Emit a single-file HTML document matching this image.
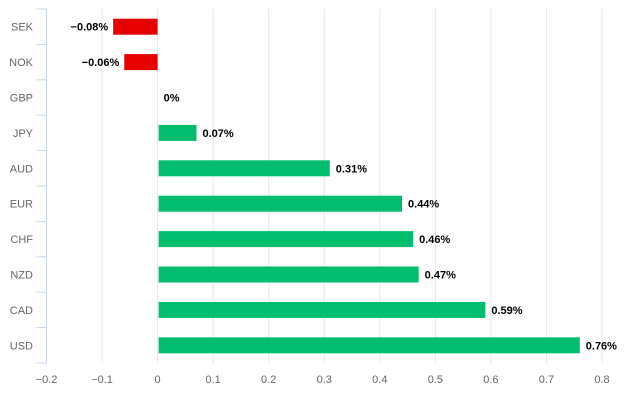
<!DOCTYPE html>
<html><head><meta charset="utf-8"><style>
body{margin:0;background:#fff;font-family:"Liberation Sans",sans-serif}
</style></head><body>
<svg id="c" width="628" height="404" xmlns="http://www.w3.org/2000/svg"></svg>
<script>
const categories=["SEK","NOK","GBP","JPY","AUD","EUR","CHF","NZD","CAD","USD"];
const values=[-0.08,-0.06,0,0.07,0.31,0.44,0.46,0.47,0.59,0.76];
const valueLabels=["−0.08%","−0.06%","0%","0.07%","0.31%","0.44%","0.46%","0.47%","0.59%","0.76%"];
const ticks=[-0.2,-0.1,0,0.1,0.2,0.3,0.4,0.5,0.6,0.7,0.8];
const tickLabels=["−0.2","−0.1","0","0.1","0.2","0.3","0.4","0.5","0.6","0.7","0.8"];
const svg=document.getElementById('c');const NS="http://www.w3.org/2000/svg";
const x0=46.5,x1=602,plotTop=9,plotBot=363,vmin=-0.2,vmax=0.8;
const X=v=>x0+(v-vmin)/(vmax-vmin)*(x1-x0);
const band=(plotBot-plotTop)/categories.length;
const Y=i=>plotTop+band*(i+0.5);
function mk(t,a,txt){const e=document.createElementNS(NS,t);for(const k in a)e.setAttribute(k,a[k]);if(txt!=null)e.textContent=txt;svg.appendChild(e);return e;}
ticks.forEach((t,i)=>{
 if(t!==vmin){const g=mk('line',{x1:X(t),x2:X(t),y1:plotTop,y2:plotBot,stroke:'#e6e6e6','stroke-width':1});
 
 }
 const l=mk('text',{x:X(t),y:383,'text-anchor':'middle','font-size':11,fill:'#666'},tickLabels[i]);
 
 
});
const ax=mk('line',{x1:x0,x2:x0,y1:plotTop,y2:plotBot,stroke:'#ccd6eb','stroke-width':1});


for(let i=0;i<=categories.length;i++){const tk=mk('line',{x1:x0-10,x2:x0,y1:plotTop+band*i,y2:plotTop+band*i,stroke:'#ccd6eb','stroke-width':1});

}
categories.forEach((c,i)=>{
 const cl=mk('text',{x:33,y:Y(i)+4,'text-anchor':'end','font-size':11,fill:'#666'},c);
 
 
 const v=values[i];const bh=16;
 const xa=X(Math.min(0,v))+(v>=0?1:0),xb=X(Math.max(0,v));
 if(v!==0){const r=mk('rect',{x:xa,y:Y(i)-bh/2,width:Math.max(0,xb-xa),height:bh,fill:v<0?'#e60000':'#00be6e'});
 
 }
 const vl=mk('text',{x:v<0?X(v)-5:X(v)+6,y:Y(i)+4,'text-anchor':v<0?'end':'start','font-size':11,'font-weight':'bold',fill:'#000'},valueLabels[i]);
 
 
});
</script>
</body></html>
